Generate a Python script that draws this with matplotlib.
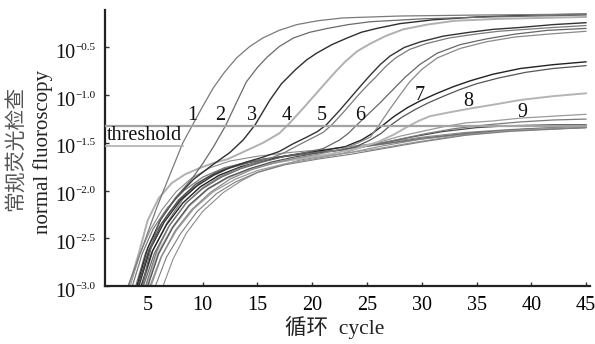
import matplotlib
matplotlib.use('Agg')
import matplotlib.pyplot as plt
from matplotlib.ticker import NullLocator

plt.rcParams['font.family'] = ['Liberation Serif', 'Noto Sans CJK SC', 'DejaVu Sans']
plt.rcParams['mathtext.fontset'] = 'stix'

# ---- data: (cycle, log10 normalised fluorescence) ----
curve_1 = [(3.2, -3.0), (4.5, -2.6), (5.85, -2.17), (7.0, -1.84), (8.2, -1.50), (9.1, -1.31),
           (10.0, -1.12), (11.0, -0.92), (12.0, -0.76), (13.1, -0.61), (14.3, -0.49), (15.5, -0.40),
           (17.0, -0.32), (18.6, -0.26), (20.5, -0.22), (22.8, -0.19), (28, -0.17), (35, -0.16), (45, -0.15)]
curve_2 = [(4.5, -3.0), (5.3, -2.6), (6.1, -2.31), (7.5, -2.08), (9.0, -1.88), (10.0, -1.72), (11.0, -1.54),
           (12.1, -1.32), (13.0, -1.10), (14.0, -0.86), (15.0, -0.71), (15.9, -0.60), (17.0, -0.49),
           (18.3, -0.40), (19.8, -0.34), (21.4, -0.30), (23.3, -0.26), (25.3, -0.23), (30, -0.20),
           (36, -0.18), (45, -0.16)]
curve_3 = [(4.0, -3.0), (5.0, -2.6), (6.2, -2.3), (7.6, -2.07), (9.2, -1.88), (10.8, -1.74), (12.5, -1.6),
           (13.7, -1.47), (14.8, -1.31), (16.15, -1.05), (17.2, -0.88), (18.5, -0.73), (19.5, -0.63),
           (20.4, -0.56), (21.8, -0.47), (23.2, -0.40), (24.5, -0.34), (25.9, -0.30), (28, -0.25),
           (31, -0.21), (35, -0.18), (40, -0.16), (45, -0.15)]
curve_4 = [(3.3, -3.0), (4.2, -2.65), (5.0, -2.31), (6.0, -2.08), (7.2, -1.92), (8.4, -1.83), (9.6, -1.77),
           (11.0, -1.71), (12.3, -1.67), (14.0, -1.58), (15.5, -1.50), (17.0, -1.40), (17.8, -1.31),
           (19.0, -1.16), (20.0, -1.03), (21.0, -0.90), (22.0, -0.77), (23.0, -0.65), (24.1, -0.54),
           (25.3, -0.46), (26.7, -0.38), (28.3, -0.31), (30.5, -0.26), (33, -0.22), (37, -0.20),
           (41, -0.19), (45, -0.18)]
curve_5a = [(4.2, -3.0), (5.2, -2.62), (6.5, -2.33), (8.0, -2.1), (9.5, -1.95), (11.0, -1.84), (12.5, -1.76),
            (14.0, -1.70), (15.5, -1.65), (17.0, -1.59), (18.25, -1.51), (19.5, -1.44), (20.5, -1.38),
            (21.3, -1.31), (22.5, -1.16), (23.7, -1.0), (24.6, -0.88), (25.3, -0.79), (26.2, -0.68),
            (27.1, -0.59), (28.4, -0.50), (29.9, -0.44), (32, -0.38), (34.4, -0.34), (36.5, -0.31),
            (39, -0.29), (42, -0.26), (45, -0.24)]
curve_5b = [(4.8, -3.0), (5.8, -2.64), (7.0, -2.36), (8.5, -2.13), (10.0, -1.97), (11.5, -1.86), (13.0, -1.78),
            (14.5, -1.72), (16.0, -1.67), (17.5, -1.60), (18.8, -1.52), (20.0, -1.45), (21.0, -1.39),
            (21.8, -1.31), (23.0, -1.16), (24.2, -1.0), (25.1, -0.89), (25.8, -0.81), (26.7, -0.70),
            (27.6, -0.61), (28.9, -0.52), (30.4, -0.46), (32.5, -0.40), (34.9, -0.36), (37, -0.33),
            (39.5, -0.31), (42, -0.29), (45, -0.27)]
curve_6a = [(4.6, -3.0), (5.6, -2.66), (6.9, -2.38), (8.5, -2.13), (10.0, -1.98), (11.7, -1.86), (13.5, -1.77),
            (15.5, -1.70), (17.5, -1.64), (19.5, -1.60), (21.0, -1.56), (22.5, -1.47), (23.3, -1.40),
            (24.0, -1.32), (25.1, -1.20), (26.2, -1.08), (27.3, -0.95), (28.5, -0.81), (29.8, -0.68),
            (31.4, -0.56), (33.5, -0.47), (35.9, -0.41), (38.5, -0.36), (41.5, -0.32), (45, -0.30)]
curve_6b = [(5.2, -3.0), (6.2, -2.7), (7.5, -2.42), (9.0, -2.2), (10.7, -2.02), (12.5, -1.88), (14.5, -1.78),
            (16.5, -1.71), (18.5, -1.66), (20.5, -1.62), (22.5, -1.57), (24.0, -1.51), (25.3, -1.44),
            (26.0, -1.33), (27.0, -1.16), (28.0, -1.0), (28.9, -0.86), (30.0, -0.73), (31.4, -0.61),
            (33.5, -0.51), (35.9, -0.44), (38.5, -0.39), (41.5, -0.36), (45, -0.33)]
curve_7a = [(4.4, -3.0), (5.4, -2.64), (6.7, -2.36), (8.2, -2.13), (9.8, -1.96), (11.5, -1.84), (13.5, -1.75),
            (15.5, -1.69), (17.5, -1.64), (19.5, -1.60), (21.5, -1.57), (23.0, -1.54), (24.5, -1.47),
            (25.5, -1.40), (26.4, -1.32), (27.5, -1.22), (28.7, -1.13), (29.85, -1.06), (31.4, -0.98),
            (32.9, -0.91), (34.4, -0.85), (36.5, -0.78), (39, -0.72), (42, -0.68), (45, -0.65)]
curve_7b = [(5.0, -3.0), (6.0, -2.66), (7.3, -2.38), (8.8, -2.15), (10.5, -1.98), (12.3, -1.86), (14.3, -1.77),
            (16.3, -1.70), (18.3, -1.65), (20.3, -1.61), (22.3, -1.58), (24.0, -1.54), (25.3, -1.47),
            (26.3, -1.40), (27.1, -1.32), (28.2, -1.23), (29.4, -1.15), (30.6, -1.08), (32.0, -1.01),
            (33.5, -0.94), (35.0, -0.88), (37.0, -0.82), (39.5, -0.76), (42, -0.72), (45, -0.69)]
curve_8 = [(4.9, -3.0), (5.9, -2.66), (7.2, -2.4), (8.7, -2.17), (10.4, -1.99), (12.2, -1.87), (14.2, -1.78),
           (16.5, -1.71), (19.0, -1.66), (21.5, -1.62), (24.0, -1.56), (26.0, -1.49), (27.5, -1.41),
           (28.7, -1.33), (29.7, -1.27), (30.75, -1.22), (32.5, -1.18), (34.4, -1.14), (36.5, -1.10),
           (39, -1.05), (42, -1.01), (45, -0.98)]
curve_9a = [(5.3, -3.0), (6.3, -2.68), (7.6, -2.42), (9.2, -2.19), (11.0, -2.01), (13.0, -1.88), (15.0, -1.79),
            (17.5, -1.72), (20.0, -1.67), (22.5, -1.62), (25.3, -1.52), (28.0, -1.43), (30.0, -1.38),
            (32.0, -1.33), (34.0, -1.29), (36.5, -1.27), (39, -1.24), (42, -1.22), (45, -1.20)]
curve_9b = [(3.6, -3.0), (4.5, -2.66), (5.5, -2.4), (6.8, -2.18), (8.3, -2.0), (10.0, -1.86), (12.0, -1.76),
            (14.5, -1.69), (17.5, -1.64), (20.5, -1.60), (23.0, -1.57), (25.5, -1.52), (28.0, -1.46),
            (30.5, -1.40), (33.0, -1.35), (36.0, -1.31), (39, -1.28), (42, -1.26), (45, -1.25)]
curve_10 = [(4.1, -3.0), (5.1, -2.62), (6.3, -2.34), (7.8, -2.1), (9.4, -1.93), (11.2, -1.81), (13.2, -1.73),
            (15.5, -1.67), (18.0, -1.63), (20.5, -1.60), (23.0, -1.57), (26.0, -1.51), (29.0, -1.44),
            (32.0, -1.38), (35.0, -1.34), (38.0, -1.32), (42, -1.31), (45, -1.31)]
neg_a = [(3.4, -3.0), (4.3, -2.66), (5.2, -2.42), (6.3, -2.2), (7.6, -2.01), (9.0, -1.87), (10.7, -1.76),
         (12.5, -1.69), (15, -1.64), (18, -1.60), (21, -1.57), (24, -1.53), (27, -1.49), (30, -1.44),
         (34, -1.39), (38, -1.36), (42, -1.34), (45, -1.33)]
neg_b = [(4.5, -3.0), (5.5, -2.62), (6.8, -2.33), (8.2, -2.09), (10, -1.89), (12, -1.77), (14, -1.71),
         (17, -1.65), (20, -1.61), (23, -1.57), (26, -1.52), (30, -1.46), (34, -1.40), (38, -1.37), (45, -1.34)]
neg_c = [(6.4, -3.0), (7.3, -2.72), (8.5, -2.45), (10, -2.22), (11.9, -2.02), (13.5, -1.90), (15, -1.81),
         (17, -1.74), (18.9, -1.68), (21, -1.64), (23.5, -1.60), (26.5, -1.53), (30, -1.46), (34, -1.41),
         (38, -1.37), (45, -1.34)]
neg_d = [(3.9, -3.0), (4.8, -2.65), (5.8, -2.42), (7.0, -2.22), (8.5, -2.03), (10.2, -1.88), (12, -1.78),
         (14.5, -1.70), (17.5, -1.64), (20.5, -1.60), (23.5, -1.56), (26.5, -1.51), (30, -1.45), (35, -1.39),
         (40, -1.35), (45, -1.33)]
neg_e = [(5.0, -3.0), (6.0, -2.66), (7.2, -2.40), (8.8, -2.16), (10.5, -1.98), (12.5, -1.85), (14.5, -1.77),
         (17, -1.70), (20, -1.65), (23, -1.61), (26, -1.56), (29, -1.50), (33, -1.43), (37, -1.38),
         (41, -1.35), (45, -1.33)]
neg_f = [(5.7, -3.0), (6.7, -2.70), (8.0, -2.45), (9.5, -2.22), (11.3, -2.03), (13, -1.91), (15, -1.81),
         (17.5, -1.73), (20.5, -1.67), (23.5, -1.62), (26.5, -1.56), (30, -1.49), (34, -1.42), (38, -1.38),
         (45, -1.34)]

threshold_log = -1.32
threshold_box_bottom = -1.53
threshold_box_right = 8.2

curve_labels = ['1', '2', '3', '4', '5', '6', '7', '8', '9']
label_cycles = [9.05, 11.6, 14.5, 17.7, 20.9, 24.4, 29.85, 34.2, 39.15]
label_logs = [-1.21, -1.21, -1.21, -1.21, -1.21, -1.21, -1.00, -1.07, -1.18]

x_ticks = [5, 10, 15, 20, 25, 30, 35, 40, 45]
y_tick_exps = [-3.0, -2.5, -2.0, -1.5, -1.0, -0.5]

# ---- styles ----
series = [
    (neg_a, '#8a8a8a', 0.8), (neg_b, '#777777', 0.8), (neg_c, '#8c8c8c', 0.8),
    (neg_d, '#6e6e6e', 0.8), (neg_e, '#999999', 0.8), (neg_f, '#7d7d7d', 0.8),
    (curve_10, '#4a4a4a', 0.9), (curve_9b, '#7a7a7a', 0.9), (curve_9a, '#9a9a9a', 0.9),
    (curve_8, '#b4b4b4', 1.4), (curve_7b, '#555555', 0.9), (curve_7a, '#222222', 1.0),
    (curve_6b, '#8a8a8a', 0.9), (curve_6a, '#666666', 0.9),
    (curve_5b, '#7a7a7a', 0.9), (curve_5a, '#333333', 1.0),
    (curve_4, '#b0b0b0', 1.4), (curve_3, '#2e2e2e', 1.0), (curve_2, '#6a6a6a', 0.9),
    (curve_1, '#7a7a7a', 0.9),
]

fig = plt.figure(figsize=(5.95, 3.44), dpi=100)
ax = fig.add_axes([105 / 595, 1 - 286 / 344, 485 / 595, 276 / 344])

for pts, col, lw in series:
    xs = [p[0] for p in pts]
    ys = [10 ** p[1] for p in pts]
    ax.plot(xs, ys, color=col, lw=lw, solid_capstyle='round')

ax.plot([1.1, 45.0], [10 ** threshold_log] * 2, color='#a3a3a3', lw=1.6, zorder=3)
ax.plot([1.1, threshold_box_right], [10 ** threshold_box_bottom] * 2, color='#b0b0b0', lw=1.2, zorder=3)
ax.text(1.3, 10 ** ((threshold_log + threshold_box_bottom) / 2), 'threshold', ha='left', va='center',
        fontsize=14.5, color='#111111', zorder=4)

for lab, cx, cl in zip(curve_labels, label_cycles, label_logs):
    ax.text(cx, 10 ** cl, lab, ha='center', va='center', fontsize=14.5, color='#111111', zorder=4)

ax.set_yscale('log')
ax.set_xlim(1.1, 45.35)
ax.set_ylim(10 ** -3.0, 10 ** -0.107)
ax.set_xticks(x_ticks)
ax.set_xticklabels([str(t) for t in x_ticks], fontsize=14.5)
ax.set_yticks([10 ** e for e in y_tick_exps])
ax.set_yticklabels([])
ax.yaxis.set_minor_locator(NullLocator())
ax.tick_params(axis='both', direction='in', length=3, width=1, color='#333333')
ax.tick_params(axis='x', pad=7)

# y tick labels: "10" with a small raised exponent
px = 0.72  # points per pixel at 100 dpi
for e in y_tick_exps:
    ax.annotate('10', xy=(0, 10 ** e), xycoords=('axes fraction', 'data'),
                xytext=(-30 * px, -6 * px), textcoords='offset points',
                ha='right', va='center', fontsize=14.5, color='#111111')
    ax.annotate(('%.1f' % e).replace('-', '\u2212'), xy=(0, 10 ** e),
                xycoords=('axes fraction', 'data'),
                xytext=(-29.5 * px, 0), textcoords='offset points',
                ha='left', va='center', fontsize=8, color='#111111')

for s in ['top', 'right']:
    ax.spines[s].set_visible(False)
for s in ['left', 'bottom']:
    ax.spines[s].set_linewidth(1.6)
    ax.spines[s].set_color('#222222')

fig.text(16 / 595, 1 - 148 / 344, '常规荧光检查', rotation=90, ha='center', va='center',
         fontsize=15, color='#555555', family=['Noto Sans CJK SC', 'DejaVu Sans'])
fig.text(43 / 595, 1 - 152 / 344, 'normal fluoroscopy', rotation=90, ha='center', va='center',
         fontsize=15, color='#222222')
fig.text(335 / 595, 1 - 327 / 344, '循环  cycle', ha='center', va='center', fontsize=15.5,
         color='#222222', family=['Liberation Serif', 'Noto Sans CJK SC'])

fig.savefig('out.png', dpi=100)
